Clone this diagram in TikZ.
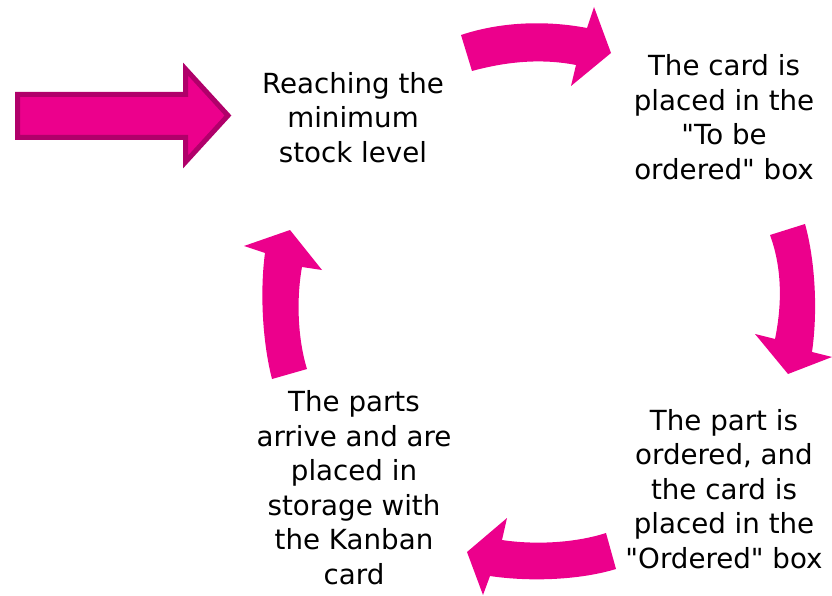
\documentclass[tikz,border=0pt]{standalone}
\usepackage{fontspec}
\setmainfont{DejaVu Sans}[Ligatures=TeXOff]
\definecolor{mag}{HTML}{EC008C}
\definecolor{magdark}{HTML}{B0006A}
\tikzset{
  lbl/.style={align=center, inner sep=0pt, font=\fontsize{27.7}{34.5}\selectfont, text=black},
  curvearrow/.style={fill=mag, draw=none},
  block/.style={fill=mag, draw=magdark, line width=5pt, line join=miter}
}
\begin{document}
\begin{tikzpicture}[x=1pt,y=-1pt]
\useasboundingbox (0,0) rectangle (832,596);
% entry block arrow
\draw[block] (17.5,94.5) -- (185.5,94.5) -- (185.5,69) -- (228,115.5) -- (185.5,162) -- (185.5,137.5) -- (17.5,137.5) -- cycle;
% texts
\node[lbl] (min) at (353,117.5) {Reaching the\\minimum\\stock level};
\node[lbl] (tobe) at (724,117) {The card is\\placed in the\\"To be\\ordered" box};
\node[lbl] (ord) at (724,489) {The part is\\ordered, and\\the card is\\placed in the\\"Ordered" box};
\node[lbl] (arr) at (354,487.5) {The parts\\arrive and are\\placed in\\storage with\\the Kanban\\card};
% curved arrows
\fill[curvearrow] (461,35) .. controls (500,22) and (545,20) .. (587,28) -- (594,7) -- (611,53) -- (571,86) -- (576,65) .. controls (540,58) and (505,62) .. (472,71) -- cycle;
\fill[curvearrow] (770,235) -- (805,224) .. controls (815,260) and (818,310) .. (812,352) -- (832,357) -- (788,374) -- (755,334) -- (775,339) .. controls (783,300) and (781,265) .. (770,235) -- cycle;
\fill[curvearrow] (606,533) .. controls (575,543) and (535,545) .. (502,540) -- (507,518) -- (467,552) -- (483,595) -- (490,576) .. controls (530,582) and (580,580) .. (616,569) -- cycle;
\fill[curvearrow] (272,379) .. controls (262,340) and (260,290) .. (265,253) -- (244,246) -- (290,230) -- (322,270) -- (302,267) .. controls (296,300) and (298,340) .. (307,369) -- cycle;
\end{tikzpicture}
\end{document}
